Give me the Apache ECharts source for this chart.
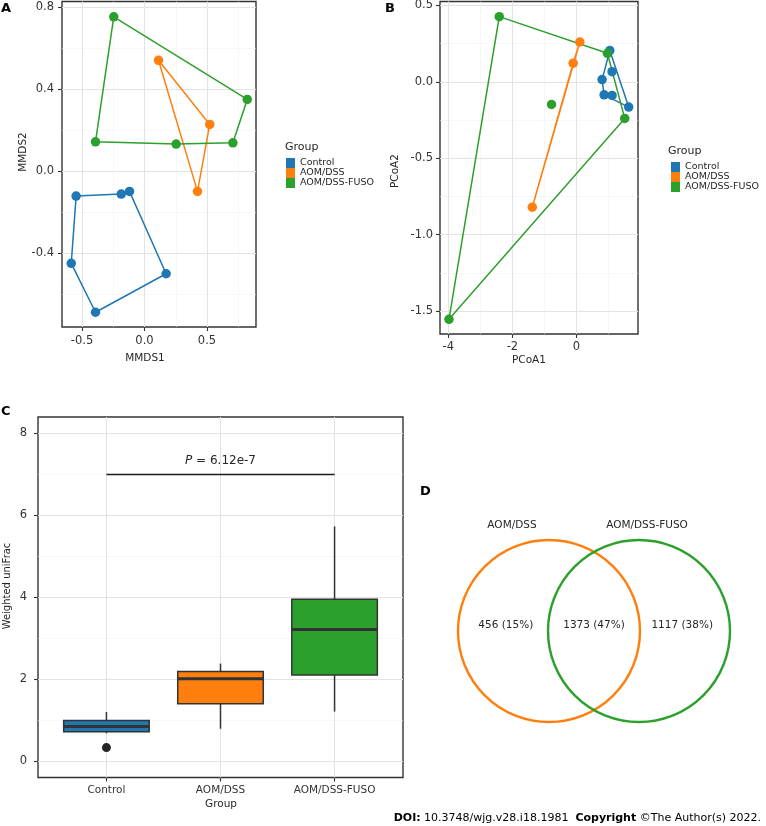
<!DOCTYPE html>
<html><head><meta charset="utf-8">
<script src="https://cdn.jsdelivr.net/npm/echarts@6/dist/echarts.min.js"></script>
<style>html,body{margin:0;padding:0;background:#fff}#c{width:766px;height:826px}</style>
</head><body><div id="c"></div><script>
// ---------- data ----------
const groups = ['Control', 'AOM/DSS', 'AOM/DSS-FUSO'];
const colors = ['#1f77b4', '#ff7f0e', '#2ca02c'];

// Panel A: NMDS (MMDS1, MMDS2)
const nmdsControl = [[-0.547,-0.122],[-0.186,-0.112],[-0.12,-0.099],[0.173,-0.501],[-0.392,-0.689],[-0.586,-0.450]];
const nmdsAomDss  = [[0.112,0.541],[0.522,0.228],[0.424,-0.099]];
const nmdsFuso    = [[-0.246,0.753],[0.822,0.350],[0.707,0.138],[0.253,0.132],[-0.392,0.143]];
const nmdsHulls   = [[0,1,2,3,4,5],[0,1,2],[0,1,2,3,4]];
const nmdsXTicks = [-0.5, 0, 0.5], nmdsXMinor = [-0.25, 0.25, 0.75];
const nmdsYTicks = [-0.4, 0, 0.4, 0.8], nmdsYMinor = [-0.6, -0.2, 0.2, 0.6];

// Panel B: PCoA (PCoA1, PCoA2)
const pcoaControl = [[1.04,0.205],[1.63,-0.165],[1.11,-0.089],[0.862,-0.085],[0.8,0.015],[1.11,0.067]];
const pcoaAomDss  = [[0.104,0.261],[-0.104,0.122],[-1.38,-0.82]];
const pcoaFuso    = [[-2.41,0.427],[0.966,0.187],[1.506,-0.239],[-3.98,-1.554],[-0.779,-0.148]];
const pcoaHulls   = [[0,1,3,4],[0,1,2],[0,1,2,3]];
const pcoaXTicks = [-4, -2, 0], pcoaXMinor = [-3, -1, 1];
const pcoaYTicks = [-1.5, -1, -0.5, 0, 0.5], pcoaYMinor = [-1.25, -0.75, -0.25, 0.25];

// Panel C: Weighted uniFrac boxplot  [min, Q1, median, Q3, max]
const boxStats = [[0.68,0.716,0.845,0.99,1.2],[0.79,1.40,2.01,2.19,2.38],[1.21,2.10,3.21,3.95,5.73]];
const boxOutliers = [[1, 0.33]];
const boxYTicks = [0, 2, 4, 6, 8], boxYMinor = [1, 3, 5, 7];
const pBracket = { from: 1, to: 3, y: 7, text: '6.12e-7' };

// Panel D: Venn
const vennSets = ['AOM/DSS', 'AOM/DSS-FUSO'];
const vennCounts = [456, 1373, 1117];
const vennPct = [15, 47, 38];

// ---------- layout / style ----------
const FF = "'DejaVu Sans', Verdana, sans-serif";
const TXT = '#262626';
const vennCenterX = [-0.5, 0.5];
const vennRegionX = [-0.98, 0, 0.98];
const vennSetLabelOffset = [-37, 8];

function valAxis(gi, min, max, ticks, fmt, margin, fs) {
  return {
    type: 'value', gridIndex: gi, min: min, max: max, scale: true,
    axisLine: { show: false, onZero: false },
    splitLine: { show: false }, minorSplitLine: { show: false },
    axisTick: { show: true, customValues: ticks, length: 4, lineStyle: { color: '#333', width: 1.1 } },
    axisLabel: { show: true, customValues: ticks, formatter: fmt, margin: margin, fontSize: fs,
      color: '#333', fontFamily: FF, showMinLabel: true, showMaxLabel: true }
  };
}
function gridLines(xMaj, xMin, yMaj, yMin) {
  const maj = { color: '#e3e3e3', width: 1.1, type: 'solid' };
  const mnr = { color: '#f1f1f1', width: 0.6, type: 'solid' };
  const d = [];
  xMin.forEach(v => d.push({ xAxis: v, lineStyle: mnr }));
  yMin.forEach(v => d.push({ yAxis: v, lineStyle: mnr }));
  xMaj.forEach(v => d.push({ xAxis: v, lineStyle: maj }));
  yMaj.forEach(v => d.push({ yAxis: v, lineStyle: maj }));
  return d;
}
function gridSeries(gi, data) {
  return { type: 'scatter', name: 'grid' + gi, xAxisIndex: gi, yAxisIndex: gi, data: [], z: 1, silent: true,
    markLine: { silent: true, z: 1, symbol: ['none', 'none'], label: { show: false }, animation: false, data: data } };
}
function ring(pts, idx) { const r = idx.map(i => pts[i]); r.push(pts[idx[0]]); return r; }
function groupSeries(gi, ptsList, hulls) {
  const out = [];
  ptsList.forEach((pts, k) => {
    out.push({ type: 'line', name: groups[k], xAxisIndex: gi, yAxisIndex: gi, data: ring(pts, hulls[k]),
      showSymbol: false, symbol: 'none', z: 2, silent: true, color: colors[k],
      lineStyle: { color: colors[k], width: 1.5, opacity: 1 } });
    out.push({ type: 'scatter', name: groups[k], xAxisIndex: gi, yAxisIndex: gi, data: pts,
      symbolSize: 9.5, z: 3, silent: true, color: colors[k], itemStyle: { color: colors[k], opacity: 1 } });
  });
  return out;
}
const f1 = v => v.toFixed(1);
const f0 = v => String(Math.round(v));
const gridBox = { show: true, borderColor: '#333', borderWidth: 1.4, backgroundColor: 'transparent', outerBoundsMode: 'none' };

const series = [];
series.push(gridSeries(0, gridLines(nmdsXTicks, nmdsXMinor, nmdsYTicks, nmdsYMinor)));
series.push(...groupSeries(0, [nmdsControl, nmdsAomDss, nmdsFuso], nmdsHulls));
series.push(gridSeries(1, gridLines(pcoaXTicks, pcoaXMinor, pcoaYTicks, pcoaYMinor)));
series.push(...groupSeries(1, [pcoaControl, pcoaAomDss, pcoaFuso], pcoaHulls));
series.push(gridSeries(2, gridLines([1, 2, 3], [], boxYTicks, boxYMinor)));
series.push({
  type: 'custom', name: 'box', xAxisIndex: 2, yAxisIndex: 2, z: 3, silent: true,
  data: boxStats.map((s, i) => [i + 1].concat(s)),
  encode: { x: 0, y: [1, 2, 3, 4, 5] },
  renderItem: function (params, api) {
    const i = params.dataIndex, x = api.value(0);
    const hw = api.size([0.75, 0])[0] / 2;
    const pMin = api.coord([x, api.value(1)]), pQ1 = api.coord([x, api.value(2)]);
    const pMed = api.coord([x, api.value(3)]), pQ3 = api.coord([x, api.value(4)]);
    const pMax = api.coord([x, api.value(5)]);
    const ls = { stroke: '#333', lineWidth: 1.5 };
    return { type: 'group', children: [
      { type: 'line', shape: { x1: pMin[0], y1: pMin[1], x2: pQ1[0], y2: pQ1[1] }, style: ls },
      { type: 'line', shape: { x1: pQ3[0], y1: pQ3[1], x2: pMax[0], y2: pMax[1] }, style: ls },
      { type: 'rect', shape: { x: pQ3[0] - hw, y: pQ3[1], width: 2 * hw, height: pQ1[1] - pQ3[1] },
        style: { fill: colors[i], stroke: '#333', lineWidth: 1.5 } },
      { type: 'line', shape: { x1: pMed[0] - hw, y1: pMed[1], x2: pMed[0] + hw, y2: pMed[1] },
        style: { stroke: '#333', lineWidth: 3 } }
    ] };
  }
});
series.push({
  type: 'scatter', name: 'outlier', xAxisIndex: 2, yAxisIndex: 2, data: boxOutliers, z: 4, silent: true,
  symbolSize: 9, itemStyle: { color: '#262626', opacity: 1 },
  markLine: { silent: true, symbol: ['none', 'none'], animation: false, z: 4,
    lineStyle: { color: '#1a1a1a', width: 1.4, type: 'solid' },
    label: { show: true, position: 'insideMiddleTop', distance: 7, fontFamily: FF, fontSize: 12, color: TXT,
      formatter: '{i|P} = ' + pBracket.text, rich: { i: { fontStyle: 'italic', fontSize: 12, fontFamily: FF, color: TXT } } },
    data: [[{ coord: [pBracket.from, pBracket.y] }, { coord: [pBracket.to, pBracket.y] }]] }
});
// Venn
series.push({
  type: 'scatter', name: 'vennSets', xAxisIndex: 3, yAxisIndex: 3, silent: true, z: 2, symbol: 'circle', symbolSize: 182,
  data: vennSets.map((s, i) => ({ value: [vennCenterX[i], 0.5], name: s,
    itemStyle: { color: 'rgba(0,0,0,0)', borderColor: colors[i + 1], borderWidth: 2.4, opacity: 1 },
    label: { show: true, position: 'top', distance: 8, offset: [vennSetLabelOffset[i], 0], formatter: s,
      fontSize: 10.5, color: TXT, fontFamily: FF, opacity: 1 } }))
});
series.push({
  type: 'scatter', name: 'vennRegions', xAxisIndex: 3, yAxisIndex: 3, silent: true, z: 3, symbolSize: 1,
  itemStyle: { color: 'rgba(0,0,0,0)', opacity: 1 },
  data: vennCounts.map((c, i) => ({ value: [vennRegionX[i], 0.533],
    label: { show: true, position: 'inside', formatter: c + ' (' + vennPct[i] + '%)', fontSize: 10.5, color: TXT, fontFamily: FF, opacity: 1 } }))
});

function txt(x, y, s, size, opts) {
  return Object.assign({ type: 'text', x: x, y: y, silent: true,
    style: { text: s, fontSize: size, fontFamily: FF, fill: TXT, align: 'center', verticalAlign: 'middle' } }, opts || {});
}
function lbl(x, y, s) {
  return { type: 'text', x: x, y: y, silent: true,
    style: { text: s, fontSize: 13, fontWeight: 'bold', fontFamily: FF, fill: '#000', align: 'left', verticalAlign: 'middle' } };
}
function ltxt(x, y, s) {
  return { type: 'text', x: x, y: y, silent: true,
    style: { text: s, fontSize: 11, fontFamily: FF, fill: TXT, align: 'left', verticalAlign: 'middle' } };
}
const graphics = [
  lbl(1, 9, 'A'), lbl(385, 9, 'B'), lbl(1, 412, 'C'), lbl(420, 492, 'D'),
  txt(145, 358, 'MMDS1', 10.5),
  txt(23, 152, 'MMDS2', 10.5, { rotation: Math.PI / 2 }),
  txt(529, 360, 'PCoA1', 10.5),
  txt(395, 171, 'PCoA2', 10.5, { rotation: Math.PI / 2 }),
  txt(221, 804, 'Group', 10.5),
  txt(7, 586, 'Weighted uniFrac', 10, { rotation: Math.PI / 2 }),
  ltxt(285, 147, 'Group'), ltxt(668, 151, 'Group'),
  { type: 'text', x: 761, y: 818, silent: true,
    style: { text: '{b|DOI:} 10.3748/wjg.v28.i18.1981  {b|Copyright} ©The Author(s) 2022.',
      fontSize: 11, fontFamily: FF, fill: '#000', align: 'right', verticalAlign: 'middle',
      rich: { b: { fontWeight: 'bold', fontSize: 11, fontFamily: FF, fill: '#000' } } } }
];
function legendAt(left, top) {
  return { left: left, top: top, orient: 'vertical', padding: 0, itemWidth: 9, itemHeight: 10, itemGap: 0,
    icon: 'rect', selectedMode: false, data: groups,
    textStyle: { fontSize: 9.5, lineHeight: 10, color: TXT, fontFamily: FF } };
}

const chart = echarts.init(document.getElementById('c'), null, { renderer: 'canvas' });
chart.setOption({
  animation: false,
  backgroundColor: '#fff',
  textStyle: { fontFamily: FF },
  grid: [
    Object.assign({ left: 62, top: 1.5, width: 194, height: 325.5 }, gridBox),
    Object.assign({ left: 440, top: 1.5, width: 198, height: 332.5 }, gridBox),
    Object.assign({ left: 38, top: 417, width: 365, height: 360.5 }, gridBox),
    { left: 459, top: 540, width: 270, height: 182, show: false, outerBoundsMode: 'none' }
  ],
  xAxis: [
    valAxis(0, -0.66, 0.892, nmdsXTicks, f1, 8, 11.5),
    valAxis(1, -4.26, 1.92, pcoaXTicks, f0, 7, 11.5),
    valAxis(2, 0.4, 3.6, [1, 2, 3], v => groups[Math.round(v) - 1] || '', 7, 10.5),
    { type: 'value', gridIndex: 3, min: -1.5, max: 1.5, show: false }
  ],
  yAxis: [
    valAxis(0, -0.761, 0.828, nmdsYTicks, f1, 8, 11.5),
    valAxis(1, -1.65, 0.526, pcoaYTicks, f1, 7, 11.5),
    valAxis(2, -0.4, 8.4, boxYTicks, f0, 11, 11.5),
    { type: 'value', gridIndex: 3, min: 0, max: 1, show: false }
  ],
  legend: [legendAt(286, 158), legendAt(671, 162)],
  graphic: graphics,
  series: series
});
</script></body></html>
